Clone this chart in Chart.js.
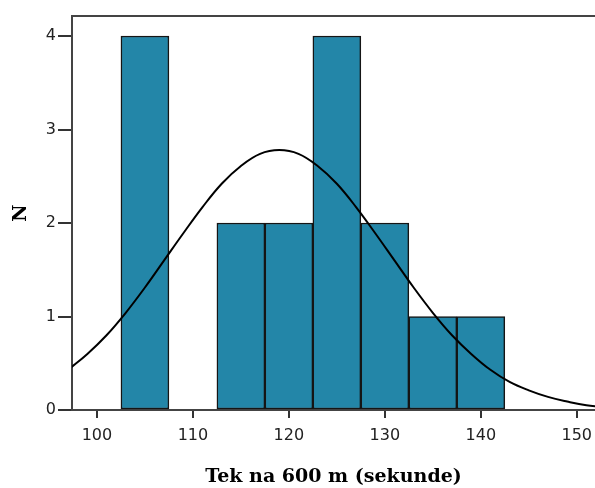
<!DOCTYPE html>
<html>
<head>
<meta charset="utf-8">
<script src="https://cdn.jsdelivr.net/npm/chart.js@4/dist/chart.umd.min.js"></script>
<style>
  body { margin: 0; background: #fff; }
  canvas { display: block; }
</style>
</head>
<body>
<canvas id="grafico" width="595" height="488"></canvas>
<script>
// histogram bins (centres, width 5 s) and counts
const binCentres = [105, 115, 120, 125, 130, 135, 140];
const counts = [4, 2, 2, 4, 2, 1, 1];

// normal curve
const curveX = [97, 99, 101, 103, 105, 107, 109, 111, 113, 115, 117, 119, 121, 123, 125, 127, 129, 131, 133, 135, 137, 139, 141, 143, 145, 147, 149, 151, 153];
const curveY = [0.43, 0.60, 0.80, 1.04, 1.31, 1.60, 1.89, 2.17, 2.42, 2.61, 2.74, 2.78, 2.74, 2.61, 2.42, 2.17, 1.89, 1.60, 1.31, 1.04, 0.80, 0.60, 0.43, 0.30, 0.21, 0.14, 0.09, 0.05, 0.03];

const xTicks = [100, 110, 120, 130, 140, 150];
const yTicks = [0, 1, 2, 3, 4];

const tickFont = { family: "'DejaVu Sans', sans-serif", size: 16 };
const titleFont = { family: "'DejaVu Serif', serif", size: 19, weight: 'bold' };

// top frame line of the plot
const moldura = {
  id: 'moldura',
  afterDraw(chart) {
    const { ctx, chartArea } = chart;
    ctx.save();
    ctx.strokeStyle = '#444';
    ctx.lineWidth = 2;
    ctx.beginPath();
    ctx.moveTo(chartArea.left - 1, chartArea.top);
    ctx.lineTo(chartArea.right + 2, chartArea.top);
    ctx.stroke();
    ctx.restore();
  }
};

new Chart(document.getElementById('grafico'), {
  type: 'bar',
  data: {
    datasets: [
      {
        type: 'line',
        data: curveX.map((x, i) => ({ x, y: curveY[i] })),
        borderColor: '#000',
        borderWidth: 2,
        pointRadius: 0,
        tension: 0.4,
        order: 0
      },
      {
        type: 'bar',
        data: binCentres.map((x, i) => ({ x, y: counts[i] })),
        backgroundColor: '#2386a8',
        borderColor: '#151515',
        borderWidth: 1.5,
        borderSkipped: false,
        barPercentage: 1,
        categoryPercentage: 1,
        order: 1
      }
    ]
  },
  options: {
    responsive: false,
    animation: false,
    layout: { padding: { top: 16, right: 0, bottom: 0, left: 0 } },
    plugins: { legend: { display: false }, tooltip: { enabled: false } },
    scales: {
      x: {
        type: 'linear',
        offset: false,
        min: 97.4,
        max: 151.9,
        afterBuildTicks: s => { s.ticks = xTicks.map(v => ({ value: v })); },
        afterFit: s => { s.height = 78; s.paddingRight = 0; s.paddingLeft = 0; },
        grid: { offset: false, drawOnChartArea: false, drawTicks: true, tickLength: 8, color: '#333', lineWidth: 2 },
        border: { display: true, color: '#444', width: 2 },
        ticks: { font: tickFont, color: '#222', padding: 8, maxRotation: 0 },
        title: { display: true, text: 'Tek na 600 m (sekunde)', font: titleFont, color: '#000', padding: { top: 2, bottom: 0 } }
      },
      y: {
        min: 0,
        max: 4.214,
        afterBuildTicks: s => { s.ticks = yTicks.map(v => ({ value: v })); },
        afterFit: s => { s.width = 72; },
        grid: { drawOnChartArea: false, drawTicks: true, tickLength: 14, color: '#333', lineWidth: 2 },
        border: { display: true, color: '#444', width: 2 },
        ticks: { font: tickFont, color: '#222', padding: 2 },
        title: { display: true, text: 'N', font: titleFont, color: '#000', padding: { top: 10, bottom: 0 } }
      }
    }
  },
  plugins: [moldura]
});
</script>
</body>
</html>
